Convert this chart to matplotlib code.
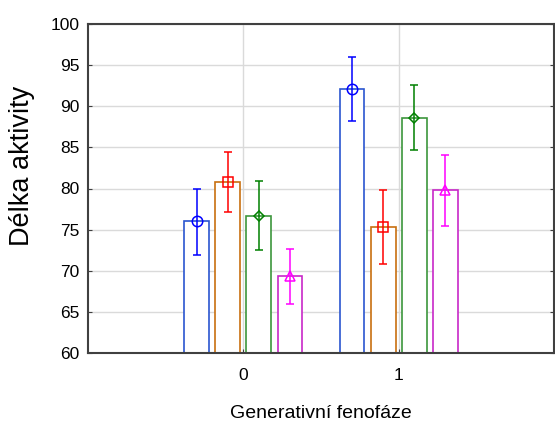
import numpy as np
import matplotlib
matplotlib.use('Agg')
import matplotlib.pyplot as plt

plt.rcParams['font.family'] = ['Liberation Sans', 'DejaVu Sans']

# data
groups = [0, 1]
means = {
    'a': [76.0, 92.1],
    'b': [80.8, 75.3],
    'c': [76.7, 88.6],
    'd': [69.4, 79.8],
}
upper = {
    'a': [79.9, 96.0],
    'b': [84.4, 79.8],
    'c': [80.9, 92.6],
    'd': [72.7, 84.1],
}
lower = {
    'a': [71.9, 88.2],
    'b': [77.2, 70.8],
    'c': [72.5, 84.7],
    'd': [66.0, 75.4],
}
yticks = [60, 65, 70, 75, 80, 85, 90, 95, 100]

offsets = {'a': -0.3, 'b': -0.1, 'c': 0.1, 'd': 0.3}
edgecol = {'a': '#2a55d0', 'b': '#c8700f', 'c': '#3c963c', 'd': '#c828c8'}
markcol = {'a': '#0000ff', 'b': '#ff0000', 'c': '#008000', 'd': '#ff00ff'}
markers = {'a': ('o', 7.5), 'b': ('s', 7), 'c': ('D', 5), 'd': ('^', 7)}

fig = plt.figure(figsize=(5.55, 4.21), dpi=100)
ax = fig.add_axes([88/555, 68/421, 466/555, 329/421])

x = np.array(groups, dtype=float)
for k in ['a', 'b', 'c', 'd']:
    xs = x + offsets[k]
    m = np.array(means[k])
    ax.bar(xs, m, width=0.16, color='white', edgecolor=edgecol[k],
           linewidth=1.2, zorder=2)
    err = [m - np.array(lower[k]), np.array(upper[k]) - m]
    ax.errorbar(xs, m, yerr=err, fmt='none', ecolor=markcol[k],
                elinewidth=1.1, capsize=2.8, capthick=1.1, zorder=3)
    ax.plot(xs, m, linestyle='none', marker=markers[k][0],
            markersize=markers[k][1], markerfacecolor='none',
            markeredgecolor=markcol[k], markeredgewidth=1.1, zorder=4)

ax.set_xlim(-1, 2)
ax.set_ylim(60, 100)
ax.set_xticks(groups)
ax.set_yticks(yticks)
ax.grid(True, color='#dadada', linewidth=1, zorder=0)
ax.set_axisbelow(True)
for s in ax.spines.values():
    s.set_color('#404040')
    s.set_linewidth(1.5)
ax.tick_params(direction='in', length=3, labelsize=12.5, right=True,
               colors='#404040', labelcolor='black', pad=6)
ax.tick_params(axis='x', pad=11)
ax.set_xlabel('Generativní fenofáze', fontsize=14, labelpad=16)
ax.set_ylabel('Délka aktivity', fontsize=19.5)
ax.yaxis.set_label_coords(-0.113, 0.568)

fig.savefig('out.png', dpi=100)
